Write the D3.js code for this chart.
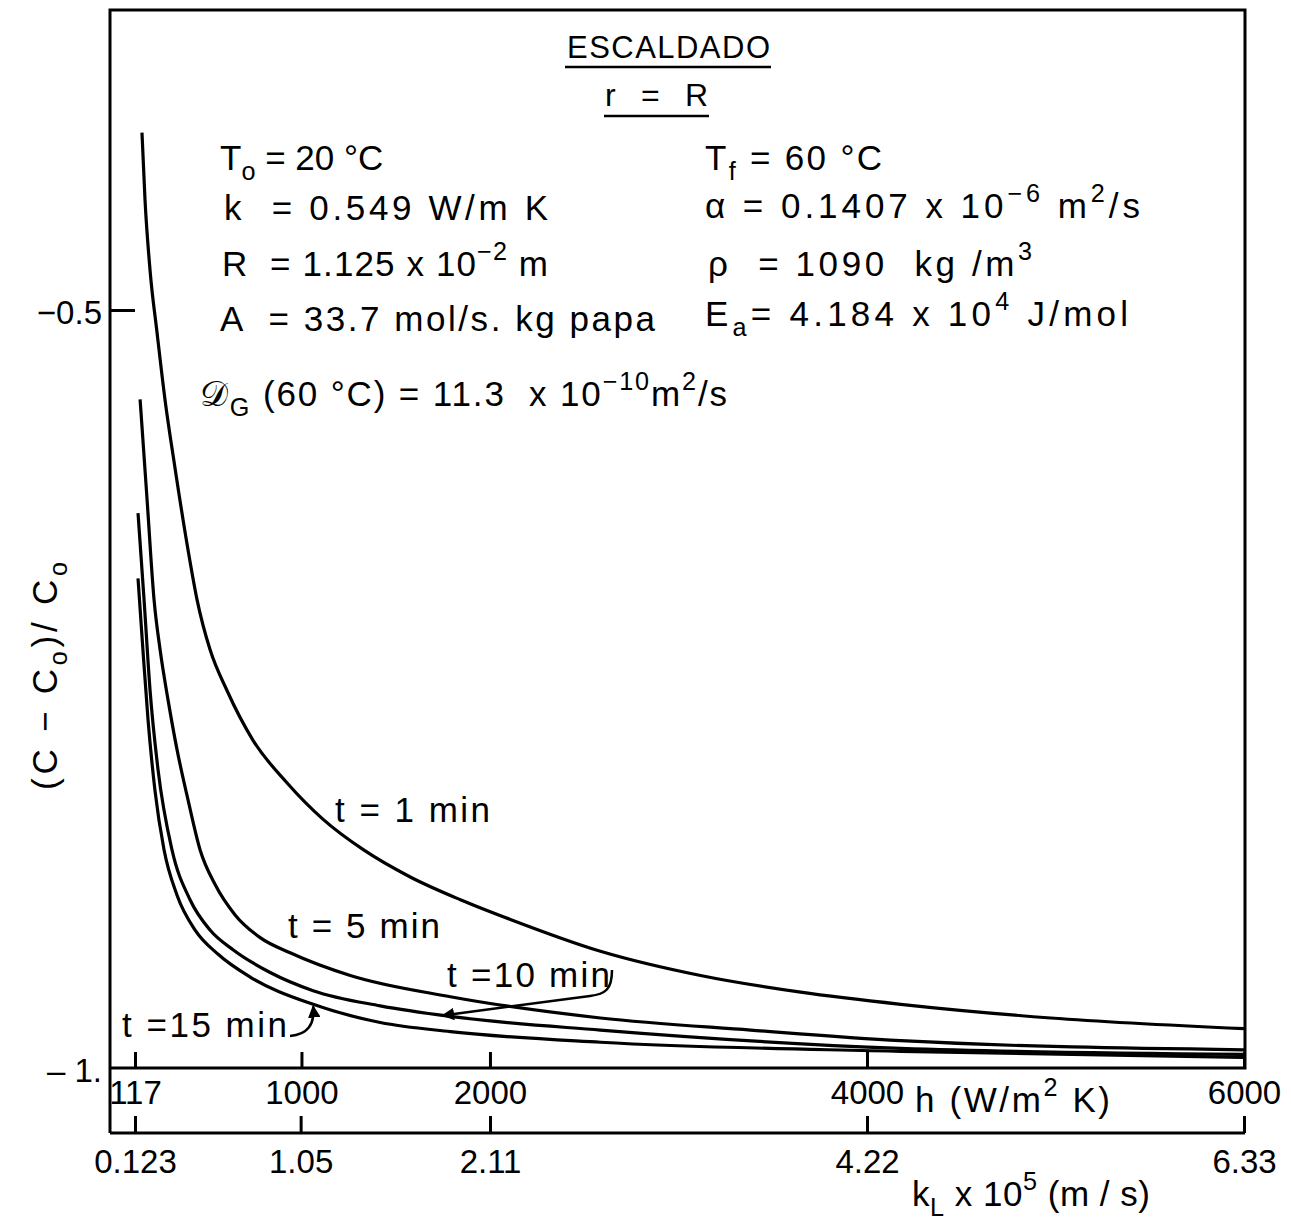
<!DOCTYPE html>
<html>
<head>
<meta charset="utf-8">
<script src="https://cdn.jsdelivr.net/npm/d3@7"></script>
<style>
body { margin: 0; background: #fff; }
text { font-family: "Liberation Sans", Arial, sans-serif; fill: #000; }
</style>
</head>
<body>
<div id="chart"></div>
<script>
// Tick values for the three axes
var hTicks = [117, 1000, 2000, 4000, 6000];
var kLTicks = [0.123, 1.05, 2.11, 4.22, 6.33];
var yTicks = [-0.5, -1];
var yTickLabels = ["−0.5", "– 1."];

// Curves: [h (W/m2K), (C - Co)/Co]
var curveT1 = [[154, -0.383], [170, -0.427], [197, -0.474], [234, -0.515], [276, -0.559], [329, -0.604],
	[398, -0.658], [446, -0.691], [515, -0.724], [605, -0.751], [744, -0.784], [924, -0.812],
	[1115, -0.836], [1328, -0.856], [1577, -0.874], [1843, -0.889], [2108, -0.902], [2586, -0.923],
	[3117, -0.939], [3648, -0.950], [4179, -0.958], [4975, -0.967], [6000, -0.974]];
var curveT5 = [[144, -0.559], [181, -0.625], [218, -0.691], [250, -0.724], [292, -0.757], [340, -0.790],
	[398, -0.823], [462, -0.856], [542, -0.879], [648, -0.899], [781, -0.914], [940, -0.924],
	[1259, -0.939], [1790, -0.953], [2586, -0.967], [3382, -0.975], [4179, -0.982], [6000, -0.988]];
var curveT10 = [[133, -0.634], [165, -0.691], [197, -0.751], [239, -0.803], [313, -0.856], [409, -0.889],
	[515, -0.909], [637, -0.922], [834, -0.937], [1062, -0.949], [1418, -0.959], [1790, -0.966],
	[2586, -0.975], [4179, -0.987], [6000, -0.991]];
var curveT15 = [[133, -0.677], [159, -0.724], [186, -0.770], [223, -0.817], [271, -0.856], [340, -0.886],
	[436, -0.909], [558, -0.925], [728, -0.940], [1062, -0.958], [1418, -0.970], [1790, -0.976],
	[2586, -0.983], [4179, -0.989], [6000, -0.993]];
var curves = [curveT1, curveT5, curveT10, curveT15];
var curveLabels = ["t = 1 min", "t = 5 min", "t =10 min", "t =15 min"];

// Layout
var BOX_L = 110, BOX_R = 1245, BOX_T = 10, BOX_B = 1133, AXIS_H = 1068;
var FONT = 35;

var svg = d3.select("#chart").append("svg")
	.attr("width", 1291)
	.attr("height", 1229);

var x = d3.scaleLinear().domain([117, 6000]).range([135, 1244]);
var xk = d3.scaleLinear().domain([0.123, 6.33]).range([135, 1244]);
var y = d3.scaleLinear().domain([-1, -0.5]).range([AXIS_H, 310]);

// Frame: left side runs down to the kL axis, right side stops at the h axis
svg.append("path")
	.attr("d", "M" + BOX_L + "," + BOX_B + "V" + BOX_T + "H" + BOX_R + "V" + AXIS_H + "H" + BOX_L +
		"M" + BOX_L + "," + BOX_B + "H" + BOX_R)
	.attr("fill", "none")
	.attr("stroke", "#000")
	.attr("stroke-width", 3);

// h axis (ticks up, labels under the line)
var hAxis = svg.append("g")
	.attr("transform", "translate(0," + AXIS_H + ")")
	.call(d3.axisBottom(x).tickValues(hTicks).tickSizeInner(-16).tickSizeOuter(0).tickPadding(6)
		.tickFormat(d3.format("d")));

// kL axis
var kAxis = svg.append("g")
	.attr("transform", "translate(0," + BOX_B + ")")
	.call(d3.axisBottom(xk).tickValues(kLTicks).tickSizeInner(-17).tickSizeOuter(0).tickPadding(10)
		.tickFormat(function(d) { return String(d); }));

// y axis
var yAxis = svg.append("g")
	.attr("transform", "translate(" + BOX_L + ",0)")
	.call(d3.axisLeft(y).tickValues(yTicks).tickSizeInner(-25).tickSizeOuter(0).tickPadding(8)
		.tickFormat(function(d, i) { return yTickLabels[i]; }));

[hAxis, kAxis, yAxis].forEach(function(g) {
	g.select(".domain").remove();
	g.selectAll(".tick line").attr("stroke", "#000").attr("stroke-width", 3);
	g.selectAll(".tick text").attr("font-size", 33).attr("fill", "#000")
		.style("font-family", "'Liberation Sans', Arial, sans-serif");
});
yAxis.selectAll(".tick").filter(function(d) { return d == -1; }).select("line").remove();
yAxis.selectAll(".tick text").attr("dy", "0.4em");
kAxis.selectAll(".tick text").attr("dy", "0.9em");
hAxis.selectAll(".tick text").attr("dy", "0.9em");

// Curves
var line = d3.line()
	.x(function(d) { return x(d[0]); })
	.y(function(d) { return y(d[1]); })
	.curve(d3.curveMonotoneX);

svg.selectAll(".curve")
	.data(curves)
	.enter()
	.append("path")
	.attr("class", "curve")
	.attr("d", line)
	.attr("fill", "none")
	.attr("stroke", "#000")
	.attr("stroke-width", 3.2);

// Rich text helper: parts are [string, "sub" | "sup" | ""], width stretches the spacing
var rich = function(px, py, parts, size, width, anchor) {
	var t = svg.append("text")
		.attr("x", px).attr("y", py)
		.attr("font-size", size)
		.attr("text-anchor", anchor || "start")
		.attr("xml:space", "preserve");
	var shift = 0;
	parts.forEach(function(p) {
		var s = p[1] || "";
		var target = s == "sub" ? 0.28 : (s == "sup" ? -0.45 : 0);
		t.append("tspan")
			.attr("dy", ((target - shift) * size) + "px")
			.attr("font-size", s ? size * 0.72 : size)
			.text(p[0]);
		shift = target;
	});
	if (width) t.attr("textLength", width).attr("lengthAdjust", "spacing");
	return t;
};

// Title block
rich(567, 58, [["ESCALDADO"]], 31, 203);
svg.append("line").attr("x1", 565).attr("x2", 771).attr("y1", 67).attr("y2", 67)
	.attr("stroke", "#000").attr("stroke-width", 2.5);
rich(605, 106, [["r = R"]], 32, 103);
svg.append("line").attr("x1", 604).attr("x2", 709).attr("y1", 116).attr("y2", 116)
	.attr("stroke", "#000").attr("stroke-width", 2.5);

// Parameter list
rich(220, 170, [["T"], ["o", "sub"], [" = 20 °C"]], FONT);
rich(224, 220, [["k  = 0.549 W/m K"]], FONT, 324);
rich(222, 276, [["R  = 1.125 x 10"], ["−2", "sup"], [" m"]], FONT, 326);
rich(220, 331, [["A  = 33.7 mol/s. kg papa"]], FONT, 435);
rich(200, 406, [["𝒟"], ["G", "sub"], [" (60 °C) = 11.3  x 10"], ["−10", "sup"], ["m"], ["2", "sup"], ["/s"]], FONT, 527);

rich(705, 170, [["T"], ["f", "sub"], [" = 60 °C"]], FONT, 177);
rich(705, 218, [["α = 0.1407 x 10"], ["−6", "sup"], [" m"], ["2", "sup"], ["/s"]], FONT, 435);
rich(708, 276, [["ρ  = 1090  kg /m"], ["3", "sup"]], FONT, 324);
rich(705, 326, [["E"], ["a", "sub"], ["= 4.184 x 10"], ["4", "sup"], [" J/mol"]], FONT, 423);

// Curve labels
var labelPos = [[335, 822, 155], [288, 938, 152], [447, 987, 163], [122, 1037, 165]];
curveLabels.forEach(function(l, i) {
	rich(labelPos[i][0], labelPos[i][1], [[l]], FONT, labelPos[i][2]);
});

// Pointers from the t = 10 and t = 15 labels to their curves
svg.append("defs").append("marker")
	.attr("id", "arrow").attr("viewBox", "0 0 10 10")
	.attr("refX", 9).attr("refY", 5)
	.attr("markerWidth", 5).attr("markerHeight", 5)
	.attr("orient", "auto")
	.append("path").attr("d", "M0,0L10,5L0,10Z").attr("fill", "#000");

svg.append("path")
	.attr("d", "M612,970 C612,990 605,994 590,996 L" + x(1750) + "," + (y(-0.966) - 1))
	.attr("fill", "none").attr("stroke", "#000").attr("stroke-width", 2.5)
	.attr("marker-end", "url(#arrow)");
svg.append("path")
	.attr("d", "M290,1036 Q316,1034 " + x(1062) + "," + (y(-0.958) + 2))
	.attr("fill", "none").attr("stroke", "#000").attr("stroke-width", 2.5)
	.attr("marker-end", "url(#arrow)");

// Axis titles
rich(915, 1112, [["h (W/m"], ["2", "sup"], [" K)"]], FONT, 195);
rich(912, 1206, [["k"], ["L", "sub"], [" x 10"], ["5", "sup"], [" (m / s)"]], FONT, 238);

var yl = rich(0, 0, [["(C − C"], ["o", "sub"], [")/ C"], ["o", "sub"]], FONT, 228);
yl.attr("transform", "translate(57,790) rotate(-90)");
</script>
</body>
</html>
